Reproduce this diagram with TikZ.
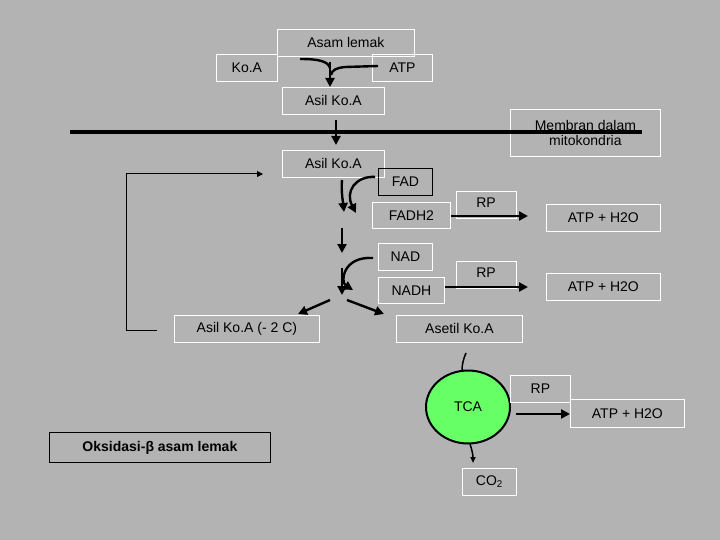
\documentclass[tikz,border=0pt]{standalone}
\usepackage{fontspec}
\setmainfont{Liberation Sans}
\usetikzlibrary{arrows.meta,shapes.geometric}
\definecolor{bg}{HTML}{B3B3B3}
\definecolor{tca}{HTML}{66FF66}
\begin{document}
\begin{tikzpicture}[x=1pt,y=-1pt,
  box/.style={draw=white,line width=0.8pt,inner sep=0pt,anchor=north west,font=\fontsize{14}{16}\selectfont},
  dbox/.style={box,draw=black},
  arr/.style={line width=2.4pt,-{Triangle[length=9pt,width=9pt]}},
  thin arr/.style={line width=1pt,-{Triangle[length=6pt,width=6pt]}}]
\fill[bg] (0,0) rectangle (720,540);
\useasboundingbox (0,0) rectangle (720,540);
\node[box,minimum width=137,minimum height=27] (al) at (277,29) {Asam lemak};
\node[box,minimum width=61,minimum height=27] (koa) at (216,54) {Ko.A};
\node[box,minimum width=60,minimum height=27] (atp) at (372,54) {ATP};
\node[box,minimum width=102,minimum height=27] (ak1) at (282,87) {Asil Ko.A};
\node[box,minimum width=150,minimum height=47,align=center,font=\fontsize{14}{15}\selectfont] (mem) at (510,109) {Membran dalam\\mitokondria};
\node[box,minimum width=102,minimum height=27] (ak2) at (282,150) {Asil Ko.A};
\node[dbox,minimum width=54,minimum height=27] (fad) at (378,168) {FAD};
\node[box,minimum width=78,minimum height=26] (fadh) at (372,202) {FADH2};
\node[box,minimum width=60,minimum height=27,anchor=north west] (rp1) at (456,191) {};
\node[font=\fontsize{14}{16}\selectfont] (rp1t) at (486,203) {RP};
\node[box,minimum width=114,minimum height=27] (atp1) at (546,204) {ATP + H2O};
\node[box,minimum width=54,minimum height=27] (nad) at (378,243) {NAD};
\node[box,minimum width=60,minimum height=27] (rp2) at (456,261) {};
\node[font=\fontsize{14}{16}\selectfont] (rp2t) at (486,273) {RP};
\node[box,minimum width=66,minimum height=26] (nadh) at (378,277) {NADH};
\node[box,minimum width=114,minimum height=27] (atp2) at (546,273) {ATP + H2O};
\node[box,minimum width=145,minimum height=27] (akc) at (174,315) {Asil Ko.A (- 2 C)};
\node[box,minimum width=126,minimum height=27] (ase) at (396,315) {Asetil Ko.A};
\node[draw=black,line width=2pt,fill=tca,ellipse,minimum width=84,minimum height=73,inner sep=0pt,font=\fontsize{14}{16}\selectfont] (tca) at (468,407) {TCA};
\node[box,minimum width=60,minimum height=27] (rp3) at (510,375) {RP};
\node[box,minimum width=114,minimum height=28] (atp3) at (570,399) {ATP + H2O};
\node[box,minimum width=54,minimum height=27] (co2) at (462,468) {CO\textsubscript{2}};
\node[dbox,minimum width=221,minimum height=30,font=\bfseries\fontsize{14}{16}\selectfont] (oks) at (49,432) {Oksidasi-β asam lemak};
% membrane
\draw[line width=4pt] (70,132) -- (642,132);
% top merge
\draw[line width=2.4pt] (300,59) .. controls (318,59) and (328,61) .. (330,68);
\draw[line width=2.4pt] (378,66) -- (345,67) .. controls (336,68) and (332,70) .. (331,75);
\draw[arr] (330,62) -- (ak1.north -| 330,0);
\draw[arr] (336,120) -- (336,145);
% FAD
\draw[arr] (342,180) .. controls (341,192) and (343,202) .. (344,212);
\draw[arr] (fad.west) ++(-3,-5) .. controls (355,176) and (345,192) .. (356,213);
\draw[arr] (342,228) -- (342,253);
% NAD
\draw[arr] (373,258) .. controls (343,256) and (340,282) .. (353,290);
\draw[arr] (342,268) -- (342,295);
% branch
\draw[arr] (330,300) -- (298,314);
\draw[arr] (347,300) -- (384,314);
% to ATP
\draw[arr] (fadh.east |- 0,216) -- (528,216);
\draw[arr] (nadh.east |- 0,287) -- (528,287);
% feedback
\coordinate (f1) at (157,330);
\coordinate (f2) at (263,174);
\draw[thin arr] (f1) -- (126,330) -- (126,174) -- (f2);
% TCA
\draw[line width=1.5pt] (466,353) .. controls (463,360) and (462,365) .. (462,371);
\draw[line width=1.5pt,-{Triangle[length=6pt,width=5pt]}] (470,444) .. controls (472,450) and (473,455) .. (473,463);
\draw[arr] (516,414) -- (atp3.west |- 0,414);
\end{tikzpicture}
\end{document}
